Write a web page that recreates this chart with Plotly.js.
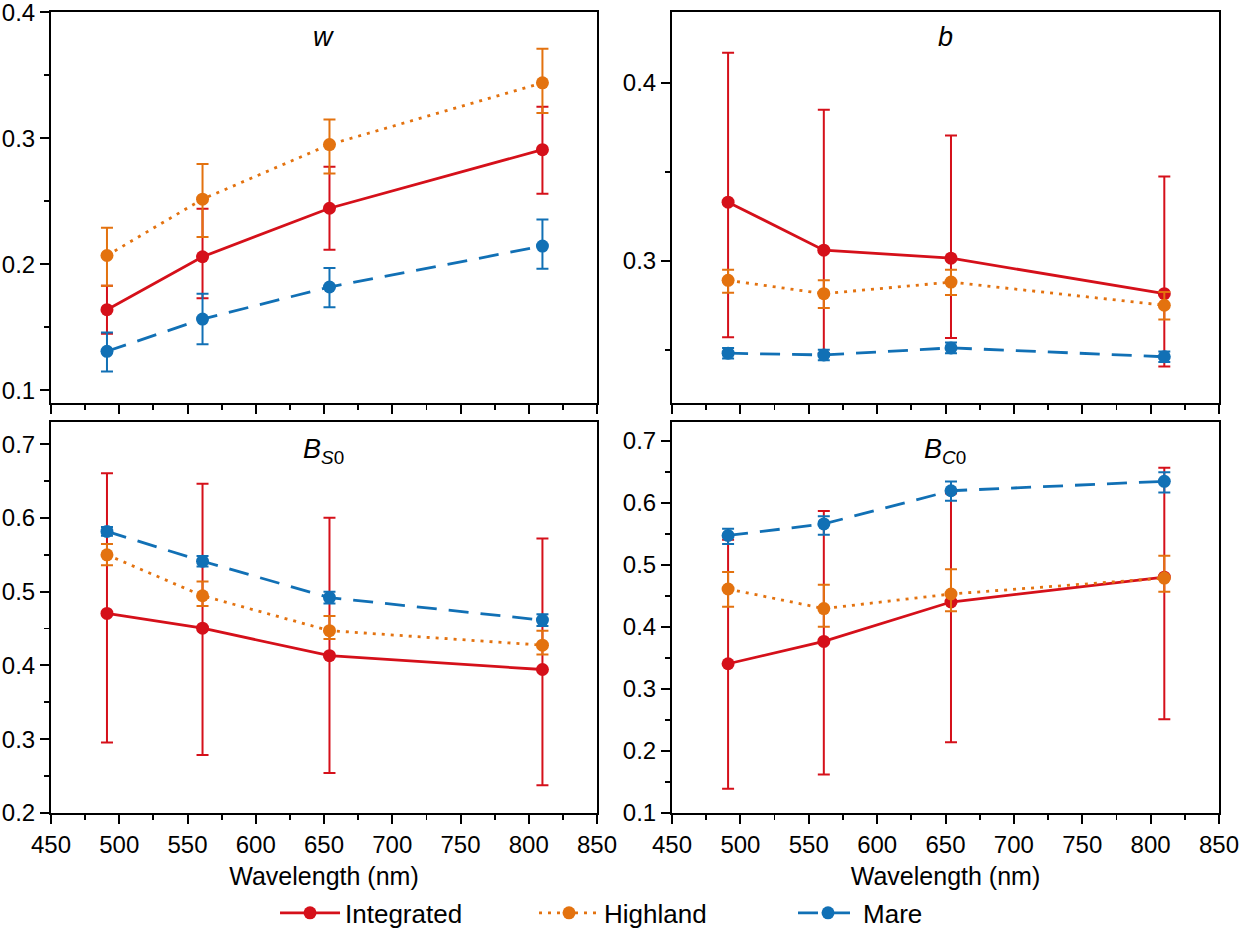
<!DOCTYPE html>
<html>
<head>
<meta charset="utf-8">
<script src="https://cdn.plot.ly/plotly-3.0.1.min.js"></script>
<style>
  html, body { margin: 0; padding: 0; background: #fff; }
  #chart { width: 1242px; height: 929px; }
</style>
</head>
<body>
<div id="chart"></div>
<script>
'use strict';

/* ============================================================
   DATA
   ============================================================ */
var wavelength = [491, 561, 654, 810];
var seriesNames = ['Integrated', 'Highland', 'Mare'];

/* w */
var wInt      = [0.164, 0.206, 0.2445, 0.291];
var wIntPlus  = [0.019, 0.038, 0.033, 0.034];
var wIntMinus = [0.019, 0.033, 0.033, 0.035];
var wHig      = [0.207, 0.2517, 0.295, 0.344];
var wHigPlus  = [0.022, 0.028, 0.020, 0.027];
var wHigMinus = [0.024, 0.030, 0.023, 0.024];
var wMar      = [0.131, 0.1566, 0.182, 0.2145];
var wMarPlus  = [0.015, 0.020, 0.015, 0.021];
var wMarMinus = [0.016, 0.020, 0.016, 0.018];

/* b */
var bInt      = [0.333, 0.306, 0.3015, 0.2815];
var bIntPlus  = [0.084, 0.079, 0.069, 0.066];
var bIntMinus = [0.076, 0.058, 0.045, 0.041];
var bHig      = [0.289, 0.2815, 0.288, 0.275];
var bHigPlus  = [0.006, 0.0075, 0.007, 0.0074];
var bHigMinus = [0.007, 0.008, 0.0073, 0.008];
var bMar      = [0.248, 0.247, 0.251, 0.246];
var bMarPlus  = [0.003, 0.003, 0.003, 0.003];
var bMarMinus = [0.003, 0.003, 0.003, 0.003];

/* B_S0 */
var bsInt      = [0.4706, 0.4505, 0.4133, 0.3945];
var bsIntPlus  = [0.190, 0.196, 0.187, 0.1775];
var bsIntMinus = [0.175, 0.172, 0.159, 0.157];
var bsHig      = [0.55, 0.4945, 0.4472, 0.4275];
var bsHigPlus  = [0.0147, 0.0193, 0.0198, 0.0195];
var bsHigMinus = [0.0142, 0.0138, 0.0114, 0.0125];
var bsMar      = [0.5817, 0.5413, 0.492, 0.4615];
var bsMarPlus  = [0.006, 0.007, 0.008, 0.008];
var bsMarMinus = [0.006, 0.007, 0.008, 0.008];

/* B_C0 */
var bcInt      = [0.3405, 0.3765, 0.44, 0.48];
var bcIntPlus  = [0.2, 0.21, 0.175, 0.1764];
var bcIntMinus = [0.2015, 0.2145, 0.226, 0.229];
var bcHig      = [0.461, 0.4294, 0.4529, 0.4785];
var bcHigPlus  = [0.0273, 0.0382, 0.0398, 0.036];
var bcHigMinus = [0.0288, 0.0294, 0.0279, 0.0218];
var bcMar      = [0.5472, 0.5658, 0.6193, 0.6345];
var bcMarPlus  = [0.0108, 0.0122, 0.0147, 0.0145];
var bcMarMinus = [0.0136, 0.0175, 0.0163, 0.018];

/* ============================================================
   STYLE
   ============================================================ */
var FONT   = 'Arial, "Liberation Sans", sans-serif';
var COLORS = ['#d5101a', '#e3720f', '#1170b5'];
var DASHES = ['solid', '3px,6px', '20px,12px'];

function makeTrace(name, idx, y, plus, minus, xa, ya, showLegend) {
  return {
    x: wavelength, y: y, name: name,
    xaxis: xa, yaxis: ya,
    type: 'scatter', mode: 'lines+markers',
    showlegend: showLegend, legendgroup: name,
    line: { color: COLORS[idx], width: 2.8, dash: DASHES[idx] },
    marker: { color: COLORS[idx], size: 13 },
    error_y: {
      type: 'data', symmetric: false,
      array: plus, arrayminus: minus,
      color: COLORS[idx], thickness: 2, width: 6
    }
  };
}

function xAxis(domain, anchor, showLabels) {
  var ax = {
    domain: domain, anchor: anchor,
    range: [450, 850], tick0: 450, dtick: 50,
    ticks: 'outside', ticklen: 9, tickwidth: 2, tickcolor: '#000',
    minor: { dtick: 25, ticks: 'outside', ticklen: 5, tickwidth: 1.8, tickcolor: '#000' },
    showline: true, linewidth: 2, linecolor: '#000', mirror: true,
    showgrid: false, zeroline: false,
    showticklabels: showLabels, ticklabeloverflow: 'allow',
    tickfont: { family: FONT, size: 24, color: '#000' }
  };
  if (showLabels) {
    ax.title = { text: 'Wavelength (nm)', font: { family: FONT, size: 25, color: '#000' }, standoff: 11 };
  }
  return ax;
}

function yAxis(domain, anchor, range) {
  return {
    domain: domain, anchor: anchor,
    range: range, tick0: 0, dtick: 0.1, tickformat: '.1f',
    ticks: 'outside', ticklen: 9, tickwidth: 2, tickcolor: '#000',
    minor: { dtick: 0.05, ticks: 'outside', ticklen: 5, tickwidth: 1.8, tickcolor: '#000' },
    showline: true, linewidth: 2, linecolor: '#000', mirror: true,
    showgrid: false, zeroline: false, ticklabeloverflow: 'allow',
    tickfont: { family: FONT, size: 24, color: '#000' }
  };
}

function panelTitle(text, x, y) {
  return {
    text: text, xref: 'paper', yref: 'paper', x: x, y: y,
    xanchor: 'center', yanchor: 'middle', showarrow: false,
    font: { family: FONT, size: 27, color: '#000' }
  };
}

/* ============================================================
   FIGURE
   ============================================================ */
function initChart() {
  var panels = [
    { xa: 'x',  ya: 'y',  d: [[wInt, wIntPlus, wIntMinus], [wHig, wHigPlus, wHigMinus], [wMar, wMarPlus, wMarMinus]] },
    { xa: 'x2', ya: 'y2', d: [[bInt, bIntPlus, bIntMinus], [bHig, bHigPlus, bHigMinus], [bMar, bMarPlus, bMarMinus]] },
    { xa: 'x3', ya: 'y3', d: [[bsInt, bsIntPlus, bsIntMinus], [bsHig, bsHigPlus, bsHigMinus], [bsMar, bsMarPlus, bsMarMinus]] },
    { xa: 'x4', ya: 'y4', d: [[bcInt, bcIntPlus, bcIntMinus], [bcHig, bcHigPlus, bcHigMinus], [bcMar, bcMarPlus, bcMarMinus]] }
  ];

  var traces = [];
  panels.forEach(function (p, pi) {
    p.d.forEach(function (s, si) {
      traces.push(makeTrace(seriesNames[si], si, s[0], s[1], s[2], p.xa, p.ya, pi === 0));
    });
  });

  var colL = [0, 0.4675], colR = [0.5317, 1];
  var rowT = [0.5119, 1],  rowB = [0, 0.4881];

  var layout = {
    width: 1242, height: 929,
    paper_bgcolor: '#fff', plot_bgcolor: '#fff',
    font: { family: FONT, color: '#000' },
    margin: { l: 51, r: 23, t: 12, b: 116, autoexpand: false },
    xaxis:  xAxis(colL, 'y',  false),
    yaxis:  yAxis(rowT, 'x',  [0.09, 0.4002]),
    xaxis2: xAxis(colR, 'y2', false),
    yaxis2: yAxis(rowT, 'x2', [0.22, 0.44]),
    xaxis3: xAxis(colL, 'y3', true),
    yaxis3: yAxis(rowB, 'x3', [0.2, 0.73]),
    xaxis4: xAxis(colR, 'y4', true),
    yaxis4: yAxis(rowB, 'x4', [0.1, 0.73]),
    annotations: [
      panelTitle('<i>w</i>', 0.2337, 0.9688),
      panelTitle('<i>b</i>', 0.7658, 0.9688),
      panelTitle('<i>B</i><sub><i>S</i>0</sub>', 0.2337, 0.4519),
      panelTitle('<i>B</i><sub><i>C</i>0</sub>', 0.7658, 0.4519)
    ],
    showlegend: true,
    legend: {
      orientation: 'h', x: 0.1918, y: -0.1248,
      xanchor: 'left', yanchor: 'middle',
      itemwidth: 60, entrywidth: 184, entrywidthmode: 'pixels',
      font: { family: FONT, size: 26, color: '#000' },
      bgcolor: 'rgba(0,0,0,0)'
    }
  };

  Plotly.newPlot('chart', traces, layout, { displayModeBar: false, staticPlot: true });
}

document.addEventListener('DOMContentLoaded', initChart);
</script>
</body>
</html>
